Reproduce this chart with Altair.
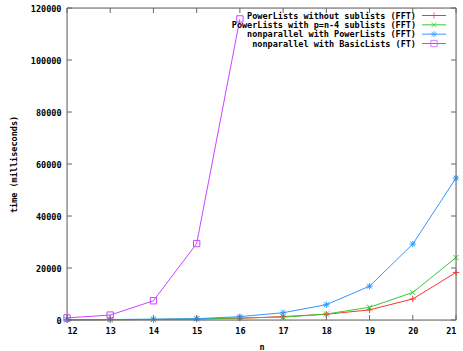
import altair as alt
import pandas as pd

n_values = [12, 13, 14, 15, 16, 17, 18, 19, 20, 21]
series_names = [
    "PowerLists without sublists (FFT)",
    "PowerLists with p=n-4 sublists (FFT)",
    "nonparallel with PowerLists (FFT)",
    "nonparallel with BasicLists (FT)",
]
red_vals = [60, 120, 200, 350, 650, 1300, 2200, 3900, 8100, 18300]
green_vals = [80, 150, 250, 450, 800, 1100, 2300, 4900, 10600, 24000]
blue_vals = [100, 200, 300, 500, 1300, 2800, 5900, 13000, 29200, 54600]
purple_n = [12, 13, 14, 15, 16]
purple_vals = [800, 1900, 7400, 29400, 115800]
colors = ["#ff3333", "#33cc33", "#3399ff", "#cc44ff"]
x_ticks = [12, 13, 14, 15, 16, 17, 18, 19, 20, 21]
y_ticks = [0, 20000, 40000, 60000, 80000, 100000, 120000]

plus = "M-1,0H1M0,-1V1"
xshape = "M-0.8,-0.8L0.8,0.8M-0.8,0.8L0.8,-0.8"
star = "M-1,0H1M0,-1V1M-0.75,-0.75L0.75,0.75M-0.75,0.75L0.75,-0.75"
shapes = [plus, xshape, star, "square"]

rows = []
for name, vals in zip(series_names[:3], [red_vals, green_vals, blue_vals]):
    for n, v in zip(n_values, vals):
        rows.append({"n": n, "time": v, "series": name})
for n, v in zip(purple_n, purple_vals):
    rows.append({"n": n, "time": v, "series": series_names[3]})
df = pd.DataFrame(rows)

W, H = 389, 312
font = "DejaVu Sans Mono"
FS = 8.5

xs = alt.Scale(domain=[12, 21], nice=False, zero=False)
ys = alt.Scale(domain=[0, 120000], nice=False)
cs = alt.Scale(domain=series_names, range=colors)
ss = alt.Scale(domain=series_names, range=shapes)

xaxis = alt.Axis(values=x_ticks, title="n", grid=False, ticks=False, domain=False,
                 labelFont=font, labelFontWeight="bold", labelFontSize=FS, labelColor="black",
                 titleFont=font, titleFontWeight="bold", titleFontSize=FS, titlePadding=8,
                 labelPadding=6, format="d")
yaxis = alt.Axis(values=y_ticks, title="time (milliseconds)", grid=False, ticks=False, domain=False,
                 labelFont=font, labelFontWeight="bold", labelFontSize=FS, labelColor="black",
                 titleFont=font, titleFontWeight="bold", titleFontSize=FS, titlePadding=12,
                 labelPadding=6, format="d")

base = alt.Chart(df)
lines = base.mark_line(strokeWidth=1).encode(
    x=alt.X("n:Q", scale=xs, axis=xaxis),
    y=alt.Y("time:Q", scale=ys, axis=yaxis),
    color=alt.Color("series:N", scale=cs, legend=None),
    detail="series:N",
)
points = base.mark_point(size=40, filled=False, strokeWidth=1, opacity=1).encode(
    x=alt.X("n:Q", scale=xs),
    y=alt.Y("time:Q", scale=ys),
    color=alt.Color("series:N", scale=cs, legend=None),
    shape=alt.Shape("series:N", scale=ss, legend=None),
)

border = alt.Chart(pd.DataFrame({"a": [0]})).mark_rect(fill=None, stroke="#666666", strokeWidth=1).encode(
    x=alt.value(0), x2=alt.value(W), y=alt.value(0), y2=alt.value(H)
)

xt = pd.DataFrame({"n": x_ticks})
yt = pd.DataFrame({"time": y_ticks})
xtick_b = alt.Chart(xt).mark_rule(color="#666666").encode(
    x=alt.X("n:Q", scale=xs), y=alt.value(H), y2=alt.value(H - 5))
xtick_t = alt.Chart(xt).mark_rule(color="#666666").encode(
    x=alt.X("n:Q", scale=xs), y=alt.value(0), y2=alt.value(5))
ytick_l = alt.Chart(yt).mark_rule(color="#666666").encode(
    y=alt.Y("time:Q", scale=ys), x=alt.value(0), x2=alt.value(5))
ytick_r = alt.Chart(yt).mark_rule(color="#666666").encode(
    y=alt.Y("time:Q", scale=ys), x=alt.value(W), x2=alt.value(W - 5))

main = alt.layer(lines, points, border, xtick_b, xtick_t, ytick_l, ytick_r)

leg = pd.DataFrame({"series": series_names, "i": [0, 1, 2, 3]})
ly = alt.Scale(domain=[0, 3], range=[7.5, 35.5])
leg_text = alt.Chart(leg).mark_text(align="right", baseline="middle", font=font,
                                    fontWeight="bold", fontSize=FS, color="black").encode(
    x=alt.value(349), y=alt.Y("i:Q", scale=ly, axis=None), text="series:N")
leg_line = alt.Chart(leg).mark_rule(strokeWidth=1).encode(
    x=alt.value(355), x2=alt.value(379), y=alt.Y("i:Q", scale=ly, axis=None),
    color=alt.Color("series:N", scale=cs, legend=None))
leg_pt = alt.Chart(leg).mark_point(size=40, filled=False, strokeWidth=1).encode(
    x=alt.value(367), y=alt.Y("i:Q", scale=ly, axis=None),
    color=alt.Color("series:N", scale=cs, legend=None),
    shape=alt.Shape("series:N", scale=ss, legend=None))
legend = alt.layer(leg_text, leg_line, leg_pt)

chart = alt.layer(main, legend).resolve_scale(y="independent").properties(
    width=W, height=H,
    autosize=alt.AutoSizeParams(type="none"),
    padding={"left": 67, "top": 8, "right": 7, "bottom": 31},
).configure_view(stroke=None).configure(background="white")

chart.save("out.html", embed_options={"renderer": "svg", "actions": False})
